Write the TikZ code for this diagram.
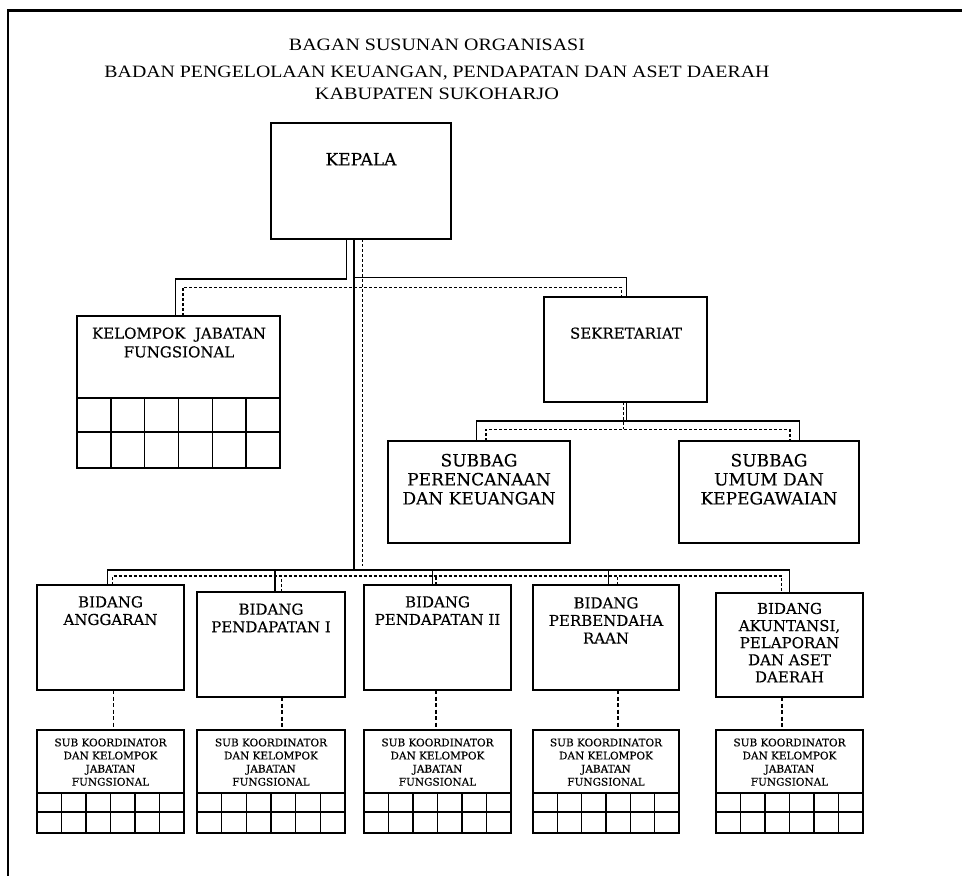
\documentclass[tikz,border=0pt]{standalone}
\usepackage{fontspec}
\setmainfont{DejaVu Serif}[FakeBold=0.3]
\newfontfamily\titlefont{Liberation Serif}
\usepackage{graphicx}
\usetikzlibrary{calc}
\begin{document}
\begin{tikzpicture}[x=1pt,y=-1pt,
  box/.style={draw=black, line width=1.7pt, inner sep=0pt, outer sep=0pt, anchor=north west},
  txt/.style={align=center, inner sep=0pt, outer sep=0pt, anchor=north, text=black},
  bigtxt/.style={txt, font=\fontsize{17}{19}\selectfont},
  midtxt/.style={txt, font=\fontsize{15}{17.6}\selectfont},
  smalltxt/.style={txt, font=\fontsize{10.5}{13.1}\selectfont},
  gridl/.style={line width=1.4pt},
  conn/.style={line width=1.4pt},
  dconn/.style={line width=1.5pt, dash pattern=on 3pt off 2pt},
  dlong/.style={line width=1.6pt, dash pattern=on 4pt off 2.5pt},
  ttl/.style={inner sep=0pt, outer sep=0pt, anchor=base}]
\useasboundingbox (0,0) rectangle (962,876);
% page frame
\draw[line width=2.4pt] (8,876) -- (8,10.5) -- (962,10.5);
% title
\node[ttl] (t1) at (437,50) {\resizebox{296pt}{11.5pt}{\titlefont BAGAN SUSUNAN ORGANISASI}};
\node[ttl] (t2) at (437,77.5) {\resizebox{665pt}{11.5pt}{\titlefont BADAN PENGELOLAAN KEUANGAN, PENDAPATAN DAN ASET DAERAH}};
\node[ttl] (t3) at (437,99) {\resizebox{244pt}{11.5pt}{\titlefont KABUPATEN SUKOHARJO}};
% boxes
\node[box, minimum width=180pt, minimum height=116pt] (kepala) at (271,123) {};
\node[box, minimum width=203pt, minimum height=152pt] (kjf) at (77,316) {};
\node[box, minimum width=163pt, minimum height=105pt] (sekr) at (544,297) {};
\node[box, minimum width=182pt, minimum height=102pt] (sbp) at (388,441) {};
\node[box, minimum width=180pt, minimum height=102pt] (sbu) at (679,441) {};
\node[box, minimum width=147pt, minimum height=105pt] (b1) at (37,585) {};
\node[box, minimum width=148pt, minimum height=105pt] (b2) at (197,592) {};
\node[box, minimum width=147pt, minimum height=105pt] (b3) at (364,585) {};
\node[box, minimum width=146pt, minimum height=105pt] (b4) at (533,585) {};
\node[box, minimum width=147pt, minimum height=104pt] (b5) at (716,593) {};
\node[box, minimum width=147pt, minimum height=103pt] (s1) at (37,730) {};
\node[box, minimum width=148pt, minimum height=103pt] (s2) at (197,730) {};
\node[box, minimum width=147pt, minimum height=103pt] (s3) at (364,730) {};
\node[box, minimum width=146pt, minimum height=103pt] (s4) at (533,730) {};
\node[box, minimum width=147pt, minimum height=103pt] (s5) at (716,730) {};
% grids
\draw[gridl] ($(kjf.south west)+(0,-70)$) -- ($(kjf.south east)+(0,-70)$);
\draw[gridl] ($(kjf.south west)+(0,-36)$) -- ($(kjf.south east)+(0,-36)$);
\foreach \k in {1,...,5}
  \draw[gridl] ($(kjf.south west)!\k/6!(kjf.south east)$) -- ++(0,-70);
\foreach \s in {s1,s2,s3,s4,s5}{
  \draw[gridl] ($(\s.south west)+(0,-40)$) -- ($(\s.south east)+(0,-40)$);
  \draw[gridl] ($(\s.south west)+(0,-21)$) -- ($(\s.south east)+(0,-21)$);
  \foreach \k in {1,...,5}
    \draw[gridl] ($(\s.south west)!\k/6!(\s.south east)$) -- ++(0,-40);
}
% texts
\node[txt, font=\fontsize{17}{19}\selectfont] (kepalat) at (361,153) {KEPALA};
\node[midtxt, font=\fontsize{15}{18.7}\selectfont] (kjft) at (179,327.5) {KELOMPOK\ \ JABATAN\\FUNGSIONAL};
\node[midtxt] (sekrt) at (626,327.5) {SEKRETARIAT};
\node[bigtxt] (sbpt) at (479,453.8) {SUBBAG\\PERENCANAAN\\DAN KEUANGAN};
\node[bigtxt] (sbut) at (769,453.8) {SUBBAG\\UMUM DAN\\KEPEGAWAIAN};
\node[midtxt] (b1t) at (110.5,596.2) {BIDANG\\ANGGARAN};
\node[midtxt] (b2t) at (271,603.5) {BIDANG\\PENDAPATAN I};
\node[midtxt] (b3t) at (437.5,596.2) {BIDANG\\PENDAPATAN II};
\node[midtxt] (b4t) at (606,597.2) {BIDANG\\PERBENDAHA\\RAAN};
\node[midtxt, font=\fontsize{15}{17.1}\selectfont] (b5t) at (789.5,602.8) {BIDANG\\AKUNTANSI,\\PELAPORAN\\DAN ASET\\DAERAH};
\foreach \s/\cx in {s1/110.5,s2/271,s3/437.5,s4/606,s5/789.5}
  \node[smalltxt] (\s t) at (\cx,738.5) {SUB KOORDINATOR\\DAN KELOMPOK\\JABATAN\\FUNGSIONAL};
% connectors from KEPALA
\draw[conn] ([xshift=-14.3pt]kepala.south) -- ++(0,40) -| ([xshift=-2.8pt]kjf.north);
\draw[conn] ([xshift=-7pt]kepala.south) -- ++(0,331);
\draw[conn] ([xshift=-7pt]kepala.south) ++(0,38.3) -| ([xshift=1.2pt]sekr.north);
\draw[dconn] ([xshift=1.7pt]kepala.south) -- ++(0,327);
\draw[dconn] ([xshift=4.5pt]kjf.north) -- ++(0,-28.7) -| ([xshift=-3.8pt]sekr.north);
% sekretariat to subbags
\draw[conn] ([xshift=1.2pt]sekr.south) -- ++(0,19);
\draw[conn] ([xshift=-2.3pt]sbp.north) -- ++(0,-20) -| ([xshift=30.3pt]sbu.north);
\draw[dconn] ([xshift=-2.2pt]sekr.south) -- ++(0,27);
\draw[dconn] ([xshift=7pt]sbp.north) -- ++(0,-11.7) -| ([xshift=21pt]sbu.north);
% bidang bus
\draw[conn] ([xshift=-3.2pt]b1.north) -- ++(0,-15) -| ([xshift=-0.2pt]b5.north);
\draw[conn] ([xshift=4pt]b2.north) -- ++(0,-22);
\draw[conn] ([xshift=-4.8pt]b3.north) -- ++(0,-15);
\draw[conn] ([xshift=2.3pt]b4.north) -- ++(0,-15);
\draw[dconn] ([xshift=2.2pt]b1.north) -- ++(0,-9) -| ([xshift=-7.8pt]b5.north);
\draw[dconn] ([xshift=10.7pt]b2.north) -- ++(0,-16);
\draw[dconn] ([xshift=-1.5pt]b3.north) -- ++(0,-9);
\draw[dconn] ([xshift=11.3pt]b4.north) -- ++(0,-9);
% bidang to sub
\draw[dlong] ([xshift=2.8pt]b1.south) -- ([xshift=2.8pt]s1.north);
\draw[dlong] ([xshift=10.7pt]b2.south) -- ([xshift=10.7pt]s2.north);
\draw[dlong] ([xshift=-1.5pt]b3.south) -- ([xshift=-1.5pt]s3.north);
\draw[dlong] ([xshift=12pt]b4.south) -- ([xshift=12pt]s4.north);
\draw[dlong] ([xshift=-7.8pt]b5.south) -- ([xshift=-7.8pt]s5.north);
\end{tikzpicture}
\end{document}
